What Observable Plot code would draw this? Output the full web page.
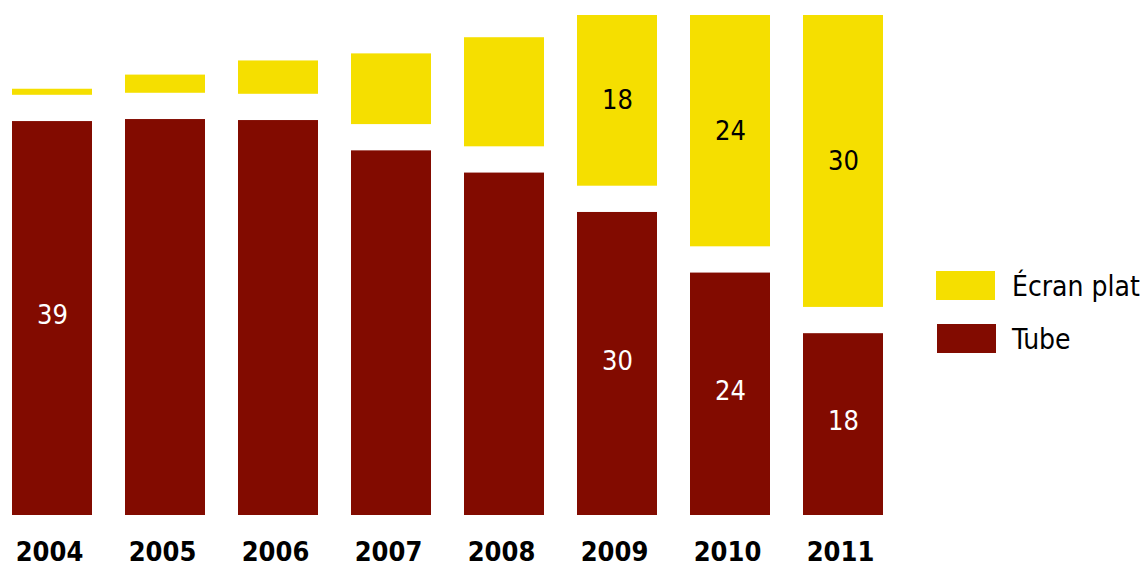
<!DOCTYPE html>
<html>
<head>
<meta charset="utf-8">
<script src="https://cdn.jsdelivr.net/npm/d3@7"></script>
<script src="https://cdn.jsdelivr.net/npm/@observablehq/plot@0.6"></script>
<style>
  body { margin: 0; background: #fff; font-family: "DejaVu Sans Condensed", "DejaVu Sans", sans-serif; }
  #wrap { position: relative; width: 1144px; height: 566px; overflow: hidden; }
  .sw { position: absolute; width: 59px; height: 29px; }
  .lt { position: absolute; font-size: 28px; line-height: 32px; color: #000; white-space: nowrap; }
</style>
</head>
<body>
<div id="wrap"></div>
<script>
// Data
const years = ["2004", "2005", "2006", "2007", "2008", "2009", "2010", "2011"];
const tube = [39, 39.2, 39.1, 36.1, 33.9, 30, 24, 18];
const flat = [0.6, 1.8, 3.3, 7, 10.8, 18, 24, 30];
const tubeLabels = [39, null, null, null, null, 30, 24, 18];
const flatLabels = [null, null, null, null, null, 18, 24, 30];
const seriesNames = ["Écran plat", "Tube"];
const seriesColors = ["#f5df00", "#820b00"];

const GAP = 2.6;   // visual gap between the two parts of a bar (in value units)
const YMAX = 49.5; // top of the frame; taller bars are clipped

const rows = years.map((y, i) => ({
  year: y, tube: tube[i], flat: flat[i], tl: tubeLabels[i], fl: flatLabels[i]
}));

const chart = Plot.plot({
  width: 1144,
  height: 566,
  marginTop: 15,
  marginBottom: 51,
  marginLeft: 0,
  marginRight: 248,
  style: { fontFamily: "'DejaVu Sans Condensed', 'DejaVu Sans', sans-serif", color: "#000", background: "#fff" },
  x: { domain: years, paddingInner: 0.288, paddingOuter: 0.108, axis: null },
  y: { domain: [0, YMAX], axis: null },
  marks: [
    Plot.barY(rows, { x: "year", y1: 0, y2: "tube", fill: seriesColors[1] }),
    Plot.barY(rows, { x: "year", y1: d => d.tube + GAP, y2: d => d.tube + GAP + d.flat, fill: seriesColors[0], clip: true }),
    Plot.text(rows.filter(d => d.tl != null), {
      x: "year", y: d => d.tube / 2, text: "tl", fill: "white", fontSize: 27, dy: -3
    }),
    Plot.text(rows.filter(d => d.fl != null), {
      x: "year", y: d => (d.tube + GAP + Math.min(YMAX, d.tube + GAP + d.flat)) / 2,
      text: "fl", fill: "black", fontSize: 27
    }),
    Plot.axisX({ label: null, tickSize: 0, tickPadding: 26, dx: -3, fontSize: 27, fontWeight: "bold", fill: "black" })
  ]
});

const wrap = document.getElementById("wrap");
wrap.appendChild(chart);

// Legend on the right
const legendPos = [
  { swLeft: 936, swTop: 271, txtTop: 271 },
  { swLeft: 937, swTop: 324, txtTop: 324 }
];
seriesNames.forEach((name, i) => {
  const sw = document.createElement("div");
  sw.className = "sw";
  sw.style.left = legendPos[i].swLeft + "px";
  sw.style.top = legendPos[i].swTop + "px";
  sw.style.background = seriesColors[i];
  wrap.appendChild(sw);
  const t = document.createElement("div");
  t.className = "lt";
  t.style.left = "1012px";
  t.style.top = legendPos[i].txtTop + "px";
  t.textContent = name;
  wrap.appendChild(t);
});
</script>
</body>
</html>
